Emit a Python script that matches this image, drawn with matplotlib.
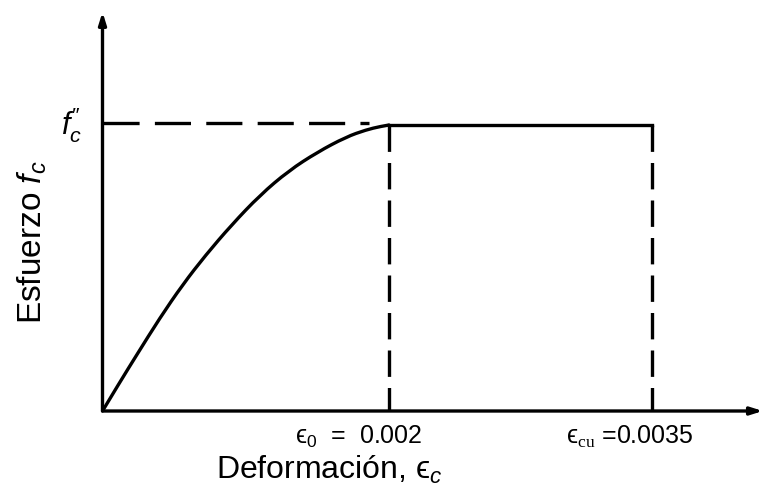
import matplotlib
matplotlib.use("Agg")
import matplotlib.pyplot as plt
from matplotlib.path import Path
from matplotlib.patches import PathPatch

plt.rcParams['font.family'] = ['Liberation Sans', 'DejaVu Sans']
plt.rcParams['mathtext.fontset'] = 'custom'
plt.rcParams['mathtext.rm'] = 'Liberation Serif'
plt.rcParams['mathtext.sf'] = 'Liberation Sans'
plt.rcParams['mathtext.it'] = 'Liberation Sans:italic'
plt.rcParams['mathtext.bf'] = 'Liberation Sans:bold'
plt.rcParams['lines.scale_dashes'] = False

# Curve, in units of (strain / eps0, stress / f''c)
curve_x = [0.0, 0.06, 0.12, 0.20, 0.28, 0.36, 0.45, 0.55, 0.65, 0.75, 0.85, 0.92, 0.97, 1.0]
curve_y = [0.0, 0.10, 0.197, 0.325, 0.442, 0.545, 0.650, 0.755, 0.840, 0.905, 0.958, 0.983, 0.995, 1.0]

# Plateau and key strains (drawing positions, eps0 = 1)
x_eps0 = 1.0
x_epscu = 1.918
y_peak = 1.0

tick_labels = ['\u03f5$_\\mathsf{0}$  =  0.002', '\u03f5$_\\mathrm{cu}$ =0.0035']
xlabel = 'Deformación, \u03f5$_c$'
ylabel = r'Esfuerzo $f_c$'
peak_label = "$f_c^{\\mathsf{\u2033}}$"

W, H = 765, 500
fig = plt.figure(figsize=(W / 100, H / 100), dpi=100)
ox, oy = 102.5, 411
ux, uy = 286.5, 286
ax = fig.add_axes([ox / W, (H - oy) / H, (W - ox) / W, oy / H])
ax.set_xlim(0, (W - ox) / ux)
ax.set_ylim(0, oy / uy)
ax.set_axis_off()

lw = 2.4
arrow = dict(arrowstyle='-|>,head_length=0.7,head_width=0.22',
             color='black', lw=lw, shrinkA=0, shrinkB=0)
ax.annotate('', xy=(2.305, 0), xytext=(0, 0), arrowprops=arrow)
ax.annotate('', xy=(0, 1.395), xytext=(0, 0), arrowprops=arrow)

# smooth curve through the read points (quadratic B-spline rendering)
pts = list(zip(curve_x, curve_y))
verts = [pts[0]]
codes = [Path.MOVETO]
for i in range(1, len(pts) - 1):
    mid = ((pts[i][0] + pts[i + 1][0]) / 2, (pts[i][1] + pts[i + 1][1]) / 2)
    if i == len(pts) - 2:
        mid = pts[-1]
    verts += [pts[i], mid]
    codes += [Path.CURVE3, Path.CURVE3]
ax.add_patch(PathPatch(Path(verts, codes), fill=False, edgecolor='black', lw=lw,
                       capstyle='round', joinstyle='round'))

ax.plot([x_eps0, x_epscu], [y_peak, y_peak], color='black', lw=lw)

ax.plot([0, x_eps0 * 0.93], [y_peak * 1.008, y_peak * 1.008], color='black', lw=lw,
        linestyle=(0, (26, 11)))
ax.plot([x_eps0, x_eps0], [y_peak, 0], color='black', lw=lw, linestyle=(0, (19, 8)))
ax.plot([x_epscu, x_epscu], [y_peak, 0], color='black', lw=lw, linestyle=(0, (19, 8)))

# labels
ax.annotate(tick_labels[0], xy=(x_eps0, 0), xytext=(-30, -33), textcoords='offset pixels',
            ha='center', va='baseline', fontsize=18)
ax.annotate(tick_labels[1], xy=(x_epscu, 0), xytext=(-22, -33), textcoords='offset pixels',
            ha='center', va='baseline', fontsize=18)
ax.annotate(peak_label, xy=(0, y_peak), xytext=(-31, 0), textcoords='offset pixels',
            ha='center', va='center', fontsize=22)

fig.text(329 / W, 1 - 479 / H, xlabel, ha='center', va='baseline', fontsize=23)
fig.text(32 / W, 1 - 242 / H, ylabel, ha='center', va='center', fontsize=24, rotation=90)

fig.savefig('out.png', dpi=100)
